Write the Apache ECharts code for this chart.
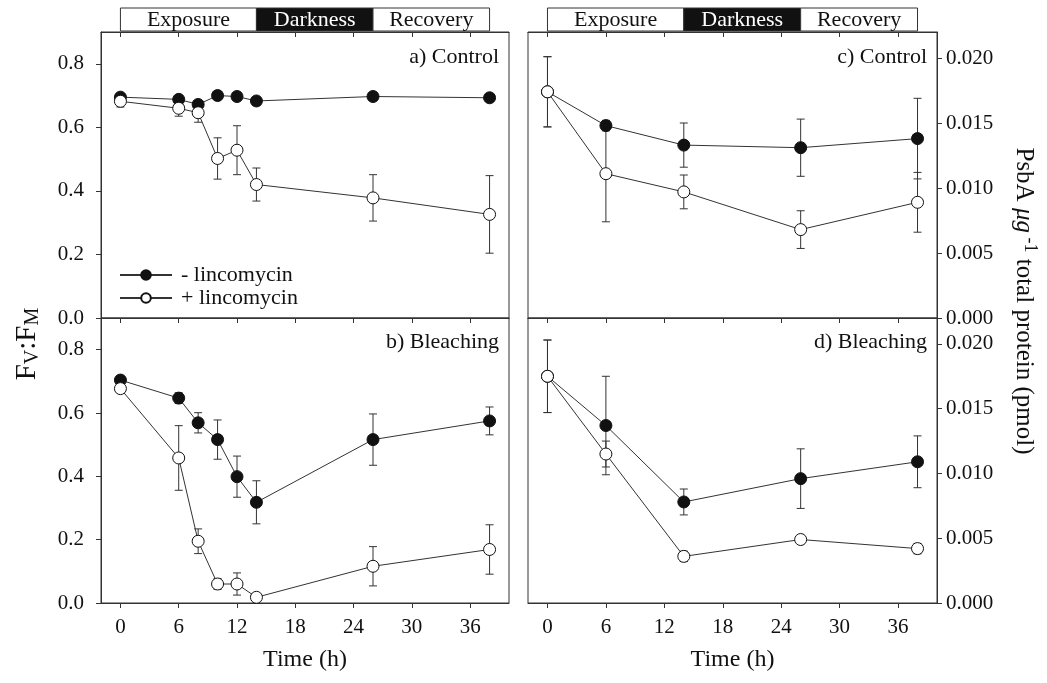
<!DOCTYPE html>
<html>
<head>
<meta charset="utf-8">
<script src="https://cdn.jsdelivr.net/npm/echarts@6/dist/echarts.min.js"></script>
<style>
  html, body { margin: 0; background: #fff; }
  #chart { width: 1047px; height: 683px; }
</style>
</head>
<body>
<div id="chart"></div>
<script>
// ---------- data ----------
const timeFv = [0, 6, 8, 10, 12, 14, 26, 38];
const timePsbA = [0, 6, 14, 26, 38];

// a) Control, Fv:Fm
const aMinus    = [0.695, 0.688, 0.672, 0.700, 0.697, 0.683, 0.697, 0.693];
const aMinusErr = [0.010, 0.010, 0.012, 0.010, 0.012, 0.008, 0.008, 0.008];
const aPlus     = [0.682, 0.660, 0.646, 0.502, 0.528, 0.420, 0.378, 0.326];
const aPlusErr  = [0.018, 0.025, 0.030, 0.065, 0.077, 0.052, 0.073, 0.122];

// b) Bleaching, Fv:Fm
const bMinus    = [0.704, 0.647, 0.569, 0.516, 0.399, 0.318, 0.516, 0.575];
const bMinusErr = [0.008, 0.017, 0.032, 0.062, 0.065, 0.068, 0.081, 0.044];
const bPlus     = [0.677, 0.458, 0.195, 0.060, 0.060, 0.018, 0.116, 0.169];
const bPlusErr  = [0.008, 0.102, 0.039, 0.017, 0.035, 0.006, 0.062, 0.078];

// c) Control, PsbA
const cMinus    = [0.0174, 0.0148, 0.0133, 0.0131, 0.0138];
const cMinusErr = [0.0027, 0.0004, 0.0017, 0.0022, 0.0031];
const cPlus     = [0.0174, 0.0111, 0.0097, 0.0068, 0.0089];
const cPlusErr  = [0.0027, 0.0037, 0.0013, 0.00145, 0.0023];

// d) Bleaching, PsbA
const dMinus    = [0.0175, 0.0137, 0.0078, 0.0096, 0.0109];
const dMinusErr = [0.0028, 0.0038, 0.0010, 0.0023, 0.0020];
const dPlus     = [0.0175, 0.0115, 0.0036, 0.0049, 0.0042];
const dPlusErr  = [0.0028, 0.0010, 0.0004, 0.0001, 0.0004];

const xTicks = [0, 6, 12, 18, 24, 30, 36];
const yFvTicks = [0, 0.2, 0.4, 0.6, 0.8];
const yPsbATicks = [0, 0.005, 0.010, 0.015, 0.020];

const phases = ['Exposure', 'Darkness', 'Recovery'];
const phaseBounds = [0, 14, 26, 38];

const panelLabels = ['a) Control', 'b) Bleaching', 'c) Control', 'd) Bleaching'];
const seriesNames = ['- lincomycin', '+ lincomycin'];

// ---------- style ----------
const FONT = '"Liberation Serif", "Times New Roman", serif';
const INK = '#111';
const LINE = '#333';

// ---------- helpers ----------
function errorBar(params, api) {
  const x = api.value(0);
  const top = api.coord([x, api.value(2)]);
  const bot = api.coord([x, api.value(1)]);
  const w = 4;
  const st = { stroke: LINE, lineWidth: 1 };
  return {
    type: 'group',
    children: [
      { type: 'line', shape: { x1: top[0], y1: top[1], x2: bot[0], y2: bot[1] }, style: st },
      { type: 'line', shape: { x1: top[0] - w, y1: top[1], x2: top[0] + w, y2: top[1] }, style: st },
      { type: 'line', shape: { x1: bot[0] - w, y1: bot[1], x2: bot[0] + w, y2: bot[1] }, style: st },
    ],
  };
}

function phaseBox(params, api) {
  const i = api.value(2);
  const p0 = api.coord([api.value(0), 1]);
  const p1 = api.coord([api.value(1), 0]);
  const dark = i === 1;
  return {
    type: 'group',
    children: [
      { type: 'rect',
        shape: { x: p0[0], y: p0[1], width: p1[0] - p0[0], height: p1[1] - p0[1] },
        style: { fill: dark ? '#111' : '#fff', stroke: LINE, lineWidth: 1 } },
      { type: 'text',
        style: { text: phases[i], x: (p0[0] + p1[0]) / 2, y: (p0[1] + p1[1]) / 2 + 1,
                 align: 'center', verticalAlign: 'middle', fontSize: 22, fontFamily: FONT,
                 fill: dark ? '#fff' : INK } },
    ],
  };
}

function panelSeries(k, times, minus, minusErr, plus, plusErr) {
  const bars = (v, e) => times.map((t, i) => [t, v[i] - e[i], v[i] + e[i]]);
  const pts = (v) => times.map((t, i) => [t, v[i]]);
  const base = { xAxisIndex: k, yAxisIndex: k, silent: true };
  return [
    { ...base, type: 'custom', renderItem: errorBar, data: bars(minus, minusErr), encode: { x: 0, y: [1, 2] }, z: 1 },
    { ...base, type: 'custom', renderItem: errorBar, data: bars(plus, plusErr), encode: { x: 0, y: [1, 2] }, z: 1 },
    { ...base, type: 'line', name: seriesNames[0], data: pts(minus), symbol: 'circle', symbolSize: 12,
      lineStyle: { color: LINE, width: 1 }, itemStyle: { color: '#111', borderColor: '#111', borderWidth: 1 }, z: 3 },
    { ...base, type: 'line', name: seriesNames[1], data: pts(plus), symbol: 'circle', symbolSize: 12,
      lineStyle: { color: LINE, width: 1 }, itemStyle: { color: '#fff', borderColor: '#111', borderWidth: 1 }, z: 4 },
  ];
}

// ---------- layout ----------
const panelBoxes = [
  { left: 101, top: 32, width: 408, height: 286 },
  { left: 101, top: 318, width: 408, height: 285 },
  { left: 528, top: 32, width: 409, height: 286 },
  { left: 528, top: 318, width: 409, height: 285 },
];
const bannerBoxes = [
  { left: 101, top: 8, width: 408, height: 23 },
  { left: 528, top: 8, width: 409, height: 23 },
];

const grid = [
  ...panelBoxes.map((b) => ({ ...b, show: true, borderColor: LINE, borderWidth: 1 })),
  ...bannerBoxes.map((b) => ({ ...b, show: false })),
];

const tickLabel = { fontFamily: FONT, fontSize: 21, color: INK };
const axisLine = { show: true, onZero: false, lineStyle: { color: LINE, width: 1 } };

const xAxis = [];
// bottom axes (0..3)
for (let k = 0; k < 4; k++) {
  const bottomRow = k === 1 || k === 3;
  xAxis.push({
    gridIndex: k, type: 'value', min: -2, max: 40, position: 'bottom',
    axisLine,
    axisTick: { show: bottomRow, length: 5, customValues: xTicks, lineStyle: { color: LINE } },
    axisLabel: { show: bottomRow, customValues: xTicks, margin: 14, ...tickLabel },
    splitLine: { show: false },
    name: bottomRow ? 'Time (h)' : '',
    nameLocation: 'middle', nameGap: 45,
    nameTextStyle: { fontFamily: FONT, fontSize: 24, color: INK },
  });
}
// top axes (4..7), ticks inside
for (let k = 0; k < 4; k++) {
  xAxis.push({
    gridIndex: k, type: 'value', min: -2, max: 40, position: 'top',
    axisLine,
    axisTick: { show: true, inside: true, length: 5, customValues: xTicks, lineStyle: { color: LINE } },
    axisLabel: { show: false },
    splitLine: { show: false },
  });
}
// banner axes (8, 9)
xAxis.push({ gridIndex: 4, type: 'value', min: -2, max: 40, show: false });
xAxis.push({ gridIndex: 5, type: 'value', min: -2, max: 40, show: false });

const yAxis = [];
for (let k = 0; k < 4; k++) {
  const left = k < 2;
  const ticks = left ? yFvTicks : yPsbATicks;
  yAxis.push({
    gridIndex: k, type: 'value', min: 0, max: left ? 0.9 : 0.022,
    position: left ? 'left' : 'right',
    axisLine,
    axisTick: { show: true, length: 5, customValues: ticks, lineStyle: { color: LINE } },
    axisLabel: {
      customValues: ticks, margin: left ? 17 : 9, ...tickLabel,
      formatter: (v) => v.toFixed(left ? 1 : 3),
    },
    splitLine: { show: false },
  });
}
yAxis.push({ gridIndex: 4, type: 'value', min: 0, max: 1, show: false });
yAxis.push({ gridIndex: 5, type: 'value', min: 0, max: 1, show: false });

const phaseData = phases.map((p, i) => [phaseBounds[i], phaseBounds[i + 1], i]);

const series = [
  ...panelSeries(0, timeFv, aMinus, aMinusErr, aPlus, aPlusErr),
  ...panelSeries(1, timeFv, bMinus, bMinusErr, bPlus, bPlusErr),
  ...panelSeries(2, timePsbA, cMinus, cMinusErr, cPlus, cPlusErr),
  ...panelSeries(3, timePsbA, dMinus, dMinusErr, dPlus, dPlusErr),
  { type: 'custom', xAxisIndex: 8, yAxisIndex: 4, renderItem: phaseBox, data: phaseData, silent: true },
  { type: 'custom', xAxisIndex: 9, yAxisIndex: 5, renderItem: phaseBox, data: phaseData, silent: true },
];

const labelTop = [46, 331, 46, 331];
const labelRight = [548, 548, 120, 120];
const title = panelLabels.map((t, k) => ({
  text: t, right: labelRight[k], top: labelTop[k], padding: 0,
  textStyle: { fontFamily: FONT, fontSize: 22, fontWeight: 'normal', color: INK },
}));

const option = {
  animation: false,
  backgroundColor: '#fff',
  title,
  grid,
  xAxis,
  yAxis,
  series,
  legend: {
    data: seriesNames,
    orient: 'vertical', left: 114, top: 259,
    itemWidth: 52, itemHeight: 12, itemGap: 1,
    textStyle: { fontFamily: FONT, fontSize: 22, color: INK, padding: [0, 0, 0, 4] },
  },
  graphic: [
    {
      type: 'text', x: 27, y: 344, rotation: Math.PI / 2, silent: true,
      style: {
        text: '{a|F}{b|V}{a|:F}{b|M}', align: 'center', verticalAlign: 'middle', fill: INK,
        rich: {
          a: { fontFamily: FONT, fontSize: 29, color: INK },
          b: { fontFamily: FONT, fontSize: 20, color: INK, padding: [11, 0, 0, 0] },
        },
      },
    },
    {
      type: 'text', x: 1024, y: 301, rotation: -Math.PI / 2, silent: true,
      style: {
        text: '{n|PsbA }{i|\u03bcg}{s| -1}{n| total protein (pmol)}', align: 'center', verticalAlign: 'middle', fill: INK,
        rich: {
          n: { fontFamily: FONT, fontSize: 25, color: INK },
          i: { fontFamily: FONT, fontSize: 25, fontStyle: 'italic', color: INK },
          s: { fontFamily: FONT, fontSize: 18, color: INK, padding: [0, 0, 12, 0] },
        },
      },
    },
  ],
};

const chart = echarts.init(document.getElementById('chart'), null, { renderer: 'canvas' });
chart.setOption(option);
</script>
</body>
</html>
